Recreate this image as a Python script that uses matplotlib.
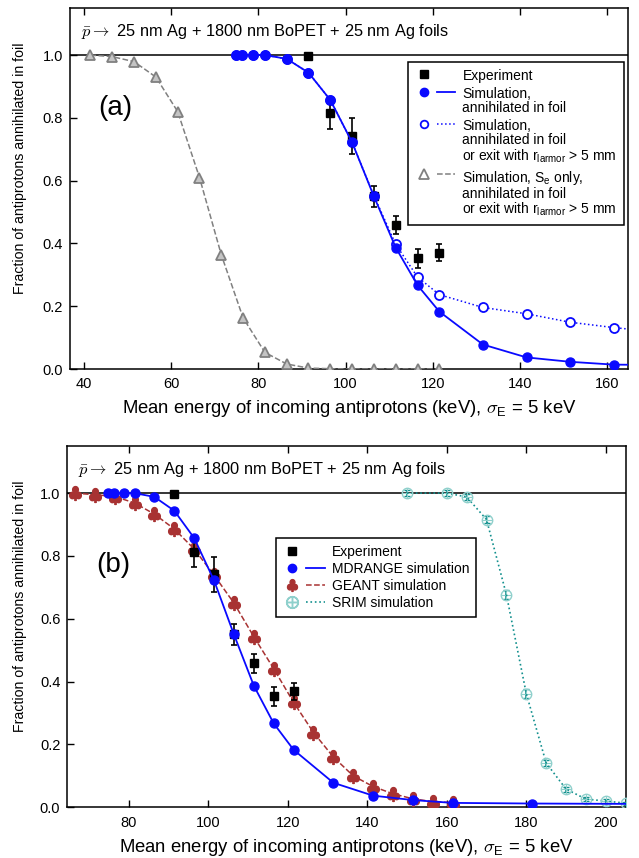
import numpy as np
import matplotlib
matplotlib.use("Agg")
import matplotlib.pyplot as plt
from matplotlib.lines import Line2D
from matplotlib.legend_handler import HandlerTuple

plt.rcParams['font.family'] = ['Liberation Sans', 'DejaVu Sans']
plt.rcParams['mathtext.fontset'] = 'cm'

# experiment
E_exp = [91.5, 96.5, 101.5, 106.5, 111.5, 116.5, 121.5]
f_exp = [0.997, 0.814, 0.741, 0.550, 0.459, 0.353, 0.370]
f_exp_err = [0.0, 0.05, 0.057, 0.033, 0.03, 0.03, 0.027]

# MDRANGE, annihilated in foil
E_md = [74.8, 76.3, 78.8, 81.5, 86.5, 91.5, 96.5, 101.5, 106.5, 111.5,
        116.5, 121.5, 131.5, 141.5, 151.5, 161.5, 181.5, 221.5]
f_md = [1.0, 1.0, 1.0, 1.0, 0.988, 0.944, 0.857, 0.722, 0.550, 0.387,
        0.267, 0.183, 0.078, 0.037, 0.023, 0.014, 0.012, 0.010]

# MDRANGE, annihilated in foil or exit with r_larmor > 5 mm
E_md_exit = [74.8, 76.3, 78.8, 81.5, 86.5, 91.5, 96.5, 101.5, 106.5, 111.5,
             116.5, 121.5, 131.5, 141.5, 151.5, 161.5, 171.5]
f_md_exit = [1.0, 1.0, 1.0, 1.0, 0.988, 0.944, 0.857, 0.722, 0.552, 0.397,
             0.293, 0.237, 0.196, 0.176, 0.149, 0.132, 0.118]

# S_e only
E_se = [41.5, 46.5, 51.5, 56.5, 61.5, 66.5, 71.5, 76.5, 81.5, 86.5,
        91.5, 96.5, 101.5, 106.5, 111.5, 116.5, 121.5]
f_se = [1.0, 0.995, 0.979, 0.930, 0.820, 0.610, 0.364, 0.163, 0.053, 0.016,
        0.003, 0.001, 0.0, 0.0, 0.0, 0.0, 0.0]

# GEANT
E_geant = [66.5, 71.5, 76.5, 81.5, 86.5, 91.5, 96.5, 101.5, 106.5, 111.5,
           116.5, 121.5, 126.5, 131.5, 136.5, 141.5, 146.5, 151.5, 156.5, 161.5]
f_geant = [1.0, 0.995, 0.989, 0.969, 0.933, 0.886, 0.822, 0.739, 0.650, 0.543,
           0.441, 0.334, 0.238, 0.160, 0.100, 0.066, 0.043, 0.027, 0.018, 0.015]

# SRIM
E_srim = [150, 160, 165, 170, 175, 180, 185, 190, 195, 200, 205]
f_srim = [1.0, 1.0, 0.988, 0.916, 0.677, 0.362, 0.141, 0.058, 0.026, 0.020, 0.013]
f_srim_err = [0.01, 0.01, 0.01, 0.012, 0.015, 0.015, 0.01, 0.008, 0.006, 0.006, 0.005]

blue = '#0a0aff'
gray = '#808080'
red = '#a83232'
teal = '#12908e'
lteal = '#8fd0cc'

title = r'$\bar{p}\rightarrow$ 25 nm Ag + 1800 nm BoPET + 25 nm Ag foils'
xlabel = r'Mean energy of incoming antiprotons (keV), $\sigma_\mathregular{E}$ = 5 keV'
ylabel = 'Fraction of antiprotons annihilated in foil'

fig = plt.figure(figsize=(6.39, 8.58), dpi=100)
ax1 = fig.add_axes([0.1095, 0.5699, 0.8735, 0.4208])
ax2 = fig.add_axes([0.1053, 0.0591, 0.8739, 0.4211])


def style_axes(ax, xlim, xticks, ylab_x):
    ax.set_xlim(*xlim)
    ax.set_ylim(0, 1.15)
    ax.set_xticks(xticks)
    ax.set_yticks([0.0, 0.2, 0.4, 0.6, 0.8, 1.0])
    ax.yaxis.set_major_formatter(matplotlib.ticker.FormatStrFormatter('%.1f'))
    ax.tick_params(direction='in', length=5, width=1, labelsize=10.5, top=True, right=False)
    ax.tick_params(axis='x', pad=6)
    ax.tick_params(axis='y', pad=5)
    for s in ax.spines.values():
        s.set_linewidth(1.1)
    ax.axhline(1.0, color='k', lw=1.1, zorder=1)
    ax.set_xlabel(xlabel, fontsize=13.3, labelpad=5)
    ax.set_ylabel(ylabel, fontsize=10.2)
    ax.yaxis.set_label_coords(ylab_x, 0.557)
    ax.text(0.02, 0.934, title, transform=ax.transAxes, va='center', fontsize=11.8)


def align_top(leg):
    # put the marker next to the first line of a multi-line label
    for col in leg._legend_handle_box.get_children():
        for item in col.get_children():
            item.align = 'top'


# ---------------- panel (a) ----------------
ax = ax1
style_axes(ax, (36.8, 164.8), [40, 60, 80, 100, 120, 140, 160], -0.077)

ax.plot(E_se, f_se, ls='--', color=gray, lw=1.1, marker='^', ms=6.5,
        mfc='#c4c4c4', mec=gray, mew=1.3, zorder=3)
ax.errorbar(E_md_exit, f_md_exit, yerr=0.008, ls=':', color=blue, lw=1.1, marker='o', ms=6.5,
            mfc='white', mec=blue, mew=1.3, capsize=1.5, elinewidth=0.8, zorder=3)
ax.errorbar(E_exp, f_exp, yerr=f_exp_err, ls='none', marker='s', ms=6, color='k',
            capsize=2.5, elinewidth=1.2, capthick=1.2, zorder=4)
ax.plot(E_md, f_md, ls='-', color=blue, lw=1.3, marker='o', ms=6.5, zorder=5)

ax.text(0.081, 0.723, '(a)', transform=ax.transAxes, fontsize=20, ha='center', va='center')

none = Line2D([], [], ls='none')
handles = [
    (Line2D([], [], ls='none', marker='s', ms=6, color='k'), none),
    (Line2D([], [], ls='none', marker='o', ms=6, color=blue), Line2D([], [], color=blue, lw=1.3)),
    (Line2D([], [], ls='none', marker='o', ms=5.5, mfc='white', mec=blue, mew=1.3),
     Line2D([], [], color=blue, lw=1.1, ls=':')),
    (Line2D([], [], ls='none', marker='^', ms=6.5, mfc='white', mec=gray, mew=1.3),
     Line2D([], [], color=gray, lw=1.1, ls='--')),
]
labels = [
    'Experiment',
    'Simulation,\nannihilated in foil',
    'Simulation,\nannihilated in foil\nor exit with $\\mathregular{r_{larmor}}$ > 5 mm',
    'Simulation, $\\mathregular{S_e}$ only,\nannihilated in foil\nor exit with $\\mathregular{r_{larmor}}$ > 5 mm',
]
leg = ax.legend(handles, labels, handler_map={tuple: HandlerTuple(ndivide=None, pad=0.3)},
                loc='upper left', bbox_to_anchor=(0.606, 0.850), fontsize=10, numpoints=1,
                handlelength=2.9, handletextpad=0.5, labelspacing=0.3, borderpad=0.5,
                borderaxespad=0, fancybox=False, framealpha=1, edgecolor='k')
leg.get_frame().set_linewidth(1.1)
for t in leg.get_texts():
    t.set_linespacing(1.0)
align_top(leg)

# ---------------- panel (b) ----------------
ax = ax2
style_axes(ax, (64.6, 205.0), [80, 100, 120, 140, 160, 180, 200], -0.072)

ax.errorbar(E_srim, f_srim, yerr=f_srim_err, ls=':', color=teal, lw=1.2, marker='o', ms=7.5,
            mfc='none', mec=lteal, mew=1.0, capsize=2, elinewidth=1.2, capthick=1.2, zorder=3)
ax.plot(E_srim, f_srim, ls='none', marker='+', ms=7.5, mec=lteal, mew=0.8, zorder=3)
ax.plot(E_geant, f_geant, ls='--', color=red, lw=1.1, marker=r'$\clubsuit$', ms=10,
        mec=red, mfc=red, zorder=3)
ax.errorbar(E_exp, f_exp, yerr=f_exp_err, ls='none', marker='s', ms=6, color='k',
            capsize=2.5, elinewidth=1.2, capthick=1.2, zorder=4)
ax.plot(E_md, f_md, ls='-', color=blue, lw=1.3, marker='o', ms=6.5, zorder=5)

ax.text(0.082, 0.671, '(b)', transform=ax.transAxes, fontsize=20, ha='center', va='center')

handles = [
    (Line2D([], [], ls='none', marker='s', ms=6, color='k'), none),
    (Line2D([], [], ls='none', marker='o', ms=6, color=blue), Line2D([], [], color=blue, lw=1.3)),
    (Line2D([], [], ls='none', marker=r'$\clubsuit$', ms=8.5, color=red),
     Line2D([], [], color=red, lw=1.1, ls='--')),
    (Line2D([], [], ls='none', marker=r'$\oplus$', ms=8.5, color=lteal),
     Line2D([], [], color=teal, lw=1.2, ls=':')),
]
labels = ['Experiment', 'MDRANGE simulation', 'GEANT simulation', 'SRIM simulation']
leg = ax.legend(handles, labels, handler_map={tuple: HandlerTuple(ndivide=None, pad=0.3)},
                loc='upper left', bbox_to_anchor=(0.374, 0.745), fontsize=10, numpoints=1,
                handlelength=3.0, handletextpad=0.5, labelspacing=0.22, borderpad=0.5,
                borderaxespad=0, fancybox=False, framealpha=1, edgecolor='k')
leg.get_frame().set_linewidth(1.1)

fig.savefig('out.png', dpi=100)
